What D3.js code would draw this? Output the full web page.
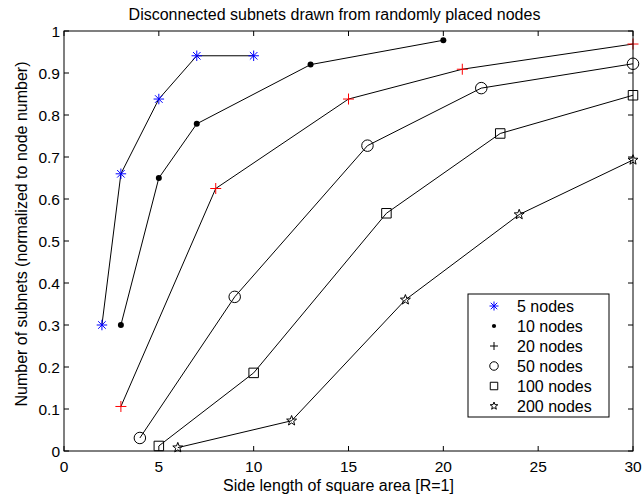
<!DOCTYPE html>
<html>
<head>
<meta charset="utf-8">
<script src="https://cdn.jsdelivr.net/npm/d3@7"></script>
<style>
  html, body { margin: 0; padding: 0; background: #fff; }
  svg { display: block; font-family: "Liberation Sans", Arial, sans-serif; }
</style>
</head>
<body>
<svg id="chart" width="642" height="499"></svg>
<script>
// ---- data ----
const seriesNames = ["5 nodes", "10 nodes", "20 nodes", "50 nodes", "100 nodes", "200 nodes"];
const x5   = [2, 3, 5, 7, 10];
const y5   = [0.30, 0.66, 0.838, 0.941, 0.941];
const x10  = [3, 5, 7, 13, 20];
const y10  = [0.30, 0.65, 0.779, 0.92, 0.978];
const x20  = [3, 8, 15, 21, 30];
const y20  = [0.106, 0.625, 0.838, 0.909, 0.969];
const x50  = [4, 9, 16, 22, 30];
const y50  = [0.031, 0.367, 0.727, 0.864, 0.922];
const x100 = [5, 10, 17, 23, 30];
const y100 = [0.012, 0.186, 0.566, 0.756, 0.847];
const x200 = [6, 12, 18, 24, 30];
const y200 = [0.008, 0.072, 0.36, 0.563, 0.693];
const xTicks = [0, 5, 10, 15, 20, 25, 30];
const yTicks = [0, 0.1, 0.2, 0.3, 0.4, 0.5, 0.6, 0.7, 0.8, 0.9, 1];

const titleText = "Disconnected subnets drawn from randomly placed nodes";
const xLabel = "Side length of square area [R=1]";
const yLabel = "Number of subnets (normalized to node number)";

const seriesX = [x5, x10, x20, x50, x100, x200];
const seriesY = [y5, y10, y20, y50, y100, y200];
const markerTypes = ["asterisk", "dot", "plus", "circle", "square", "star"];
const markerColors = ["#0000ff", "#000", "#ff0000", "#000", "#000", "#000"];
const legendColors = ["#0000ff", "#000", "#000", "#000", "#000", "#000"];

// ---- layout ----
const L = 64, R = 633, T = 31, B = 451;
const svg = d3.select("#chart");
const x = d3.scaleLinear().domain([0, 30]).range([L, R]);
const y = d3.scaleLinear().domain([0, 1]).range([B, T]);

svg.append("rect").attr("x", 0).attr("y", 0).attr("width", 642).attr("height", 499).attr("fill", "#fff");

// marker path generator
function markerPath(type, s) {
  const h = s / 2;
  switch (type) {
    case "asterisk": {
      const d = h * 0.72;
      return `M${-h},0L${h},0M0,${-h}L0,${h}M${-d},${-d}L${d},${d}M${-d},${d}L${d},${-d}`;
    }
    case "plus":
      return `M${-h},0L${h},0M0,${-h}L0,${h}`;
    case "square":
      return `M${-h},${-h}L${h},${-h}L${h},${h}L${-h},${h}Z`;
    case "star": {
      const pts = [];
      for (let i = 0; i < 10; i++) {
        const r = i % 2 === 0 ? h : h * 0.42;
        const a = -Math.PI / 2 + i * Math.PI / 5;
        pts.push([r * Math.cos(a), r * Math.sin(a)]);
      }
      return "M" + pts.map(p => p[0].toFixed(2) + "," + p[1].toFixed(2)).join("L") + "Z";
    }
  }
  return "";
}

function drawMarker(g, type, color, cx, cy, size) {
  if (type === "dot") {
    g.append("circle").attr("cx", cx).attr("cy", cy).attr("r", size * 0.3).attr("fill", color);
  } else if (type === "circle") {
    g.append("circle").attr("cx", cx).attr("cy", cy).attr("r", size / 2)
      .attr("fill", "none").attr("stroke", color).attr("stroke-width", 1);
  } else {
    g.append("path").attr("d", markerPath(type, size))
      .attr("transform", `translate(${cx},${cy})`)
      .attr("fill", "none").attr("stroke", color).attr("stroke-width", 1);
  }
}

// ---- series ----
const line = d3.line().x(d => x(d[0])).y(d => y(d[1]));
const plotG = svg.append("g");
const mainSizes = [10.5, 10, 11, 11.5, 9.5, 10.5];
seriesX.forEach((xs, i) => {
  const pts = xs.map((v, j) => [v, seriesY[i][j]]);
  plotG.append("path").datum(pts).attr("d", line)
    .attr("fill", "none").attr("stroke", "#000").attr("stroke-width", 1);
});
seriesX.forEach((xs, i) => {
  xs.forEach((v, j) => {
    drawMarker(plotG, markerTypes[i], markerColors[i], x(v), y(seriesY[i][j]), mainSizes[i]);
  });
});

// ---- axes box with inward ticks ----
const axG = svg.append("g").attr("fill", "none").attr("stroke", "#000").attr("stroke-width", 1);
axG.append("rect").attr("x", L).attr("y", T).attr("width", R - L).attr("height", B - T);
const tl = 5;
xTicks.forEach(t => {
  axG.append("line").attr("x1", x(t)).attr("x2", x(t)).attr("y1", B).attr("y2", B - tl);
  axG.append("line").attr("x1", x(t)).attr("x2", x(t)).attr("y1", T).attr("y2", T + tl);
});
yTicks.forEach(t => {
  axG.append("line").attr("x1", L).attr("x2", L + tl).attr("y1", y(t)).attr("y2", y(t));
  axG.append("line").attr("x1", R).attr("x2", R - tl).attr("y1", y(t)).attr("y2", y(t));
});

// tick labels
const fs = 15.5;
svg.append("g").selectAll("text").data(xTicks).join("text")
  .attr("x", d => x(d)).attr("y", B + 21)
  .attr("text-anchor", "middle").attr("font-size", fs).attr("fill", "#000")
  .text(d => d3.format("")(d));
svg.append("g").selectAll("text").data(yTicks).join("text")
  .attr("x", L - 4).attr("y", d => y(d) + 5.5)
  .attr("text-anchor", "end").attr("font-size", fs).attr("fill", "#000")
  .text(d => d3.format("")(d));

// title and axis labels
svg.append("text").attr("x", 334.5).attr("y", 19.5).attr("text-anchor", "middle")
  .attr("font-size", 16).attr("fill", "#000").text(titleText);
svg.append("text").attr("x", 338.5).attr("y", 491).attr("text-anchor", "middle")
  .attr("font-size", 16).attr("fill", "#000").text(xLabel);
svg.append("text").attr("transform", `translate(27,${(T + B) / 2 - 7}) rotate(-90)`)
  .attr("text-anchor", "middle").attr("font-size", 16).attr("fill", "#000").text(yLabel);

// ---- legend ----
const lg = svg.append("g");
lg.append("rect").attr("x", 468).attr("y", 294).attr("width", 141).attr("height", 123)
  .attr("fill", "#fff").attr("stroke", "#000").attr("stroke-width", 1);
const legendSizes = [9, 7, 8, 8.5, 7.5, 8];
seriesNames.forEach((name, i) => {
  const cy = 306 + i * 20;
  drawMarker(lg, markerTypes[i], legendColors[i], 494, cy, legendSizes[i]);
  lg.append("text").attr("x", 517).attr("y", cy + 5.7).attr("font-size", 16)
    .attr("fill", "#000").text(name);
});
</script>
</body>
</html>
